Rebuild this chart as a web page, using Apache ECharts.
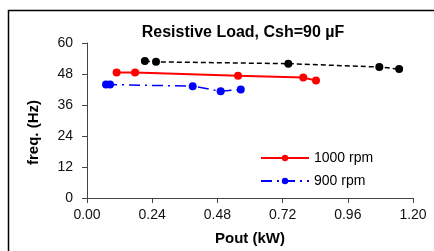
<!DOCTYPE html>
<html>
<head>
<meta charset="utf-8">
<script src="https://cdn.jsdelivr.net/npm/echarts@6/dist/echarts.min.js"></script>
<style>
    html, body { margin: 0; padding: 0; background: #fff; }
    #chart { width: 434px; height: 251px; }
</style>
</head>
<body>
<div id="chart"></div>
<script>
const xTicks = [0, 0.24, 0.48, 0.72, 0.96, 1.2]
const yTicks = [0, 12, 24, 36, 48, 60]

const pout1100 = [0.213, 0.254, 0.741, 1.076, 1.149]
const freq1100 = [53.0, 52.7, 52.0, 50.7, 49.9]

const pout1000 = [0.109, 0.177, 0.556, 0.796, 0.843]
const freq1000 = [48.6, 48.6, 47.3, 46.6, 45.5]

const pout900 = [0.070, 0.085, 0.389, 0.492, 0.566]
const freq900 = [43.9, 43.9, 43.3, 41.3, 42.0]

const pair = (xs, ys) => xs.map((x, i) => [x, ys[i]])

const chart = echarts.init(document.getElementById('chart'))
const font = 'Liberation Sans, Arial, sans-serif'

chart.setOption({
    animation: false,
    textStyle: { fontFamily: font },
    title: {
        text: 'Resistive Load, Csh=90 µF',
        left: 238,
        top: 20,
        textAlign: 'center',
        textStyle: { fontSize: 16, fontWeight: 'bold', color: '#000', fontFamily: font },
    },
    graphic: [
        {
            type: 'polyline',
            shape: { points: [[8.5, 251], [8.5, 10.5], [434, 10.5]] },
            style: { stroke: '#000', lineWidth: 1.5, fill: null },
        },
    ],
    grid: { left: 87, right: 21, top: 43, bottom: 53 },
    legend: {
        orient: 'vertical',
        left: 260,
        top: 151,
        padding: 0,
        itemWidth: 48,
        itemHeight: 8,
        itemGap: 9,
        data: ['1000 rpm', '900 rpm'],
        textStyle: { fontSize: 14, color: '#000', fontFamily: font },
    },
    xAxis: {
        type: 'value',
        min: xTicks[0],
        max: xTicks[xTicks.length - 1],
        interval: 0.24,
        name: 'Pout (kW)',
        nameLocation: 'middle',
        nameGap: 33,
        nameTextStyle: { fontSize: 15, fontWeight: 'bold', color: '#000' },
        axisLine: { lineStyle: { color: '#444', width: 1 } },
        axisTick: { show: true, length: 5, lineStyle: { color: '#444' } },
        axisLabel: { fontSize: 14, color: '#111', margin: 10, formatter: (v) => v.toFixed(2) },
        splitLine: { show: false },
    },
    yAxis: {
        type: 'value',
        min: yTicks[0],
        max: yTicks[yTicks.length - 1],
        interval: 12,
        name: 'freq. (Hz)',
        nameLocation: 'middle',
        nameGap: 46,
        nameTextStyle: { fontSize: 15, fontWeight: 'bold', color: '#000', padding: [0, 24, 0, 0] },
        axisLine: { show: true, lineStyle: { color: '#444', width: 1 } },
        axisTick: { show: true, length: 5, lineStyle: { color: '#444' } },
        axisLabel: { fontSize: 14, color: '#111', margin: 14 },
        splitLine: { show: false },
    },
    series: [
        {
            name: '1100 rpm',
            type: 'line',
            data: pair(pout1100, freq1100),
            symbol: 'circle',
            symbolSize: 8,
            itemStyle: { color: '#000' },
            lineStyle: { color: '#000', width: 1.5, type: [5, 3] },
        },
        {
            name: '1000 rpm',
            type: 'line',
            data: pair(pout1000, freq1000),
            symbol: 'circle',
            symbolSize: 8,
            itemStyle: { color: '#ff0000' },
            lineStyle: { color: '#ff0000', width: 2 },
        },
        {
            name: '900 rpm',
            type: 'line',
            data: pair(pout900, freq900),
            symbol: 'circle',
            symbolSize: 8,
            itemStyle: { color: '#0000ff' },
            lineStyle: { color: '#0000ff', width: 1.5, type: [11, 5, 2, 5] },
        },
    ],
})
</script>
</body>
</html>
